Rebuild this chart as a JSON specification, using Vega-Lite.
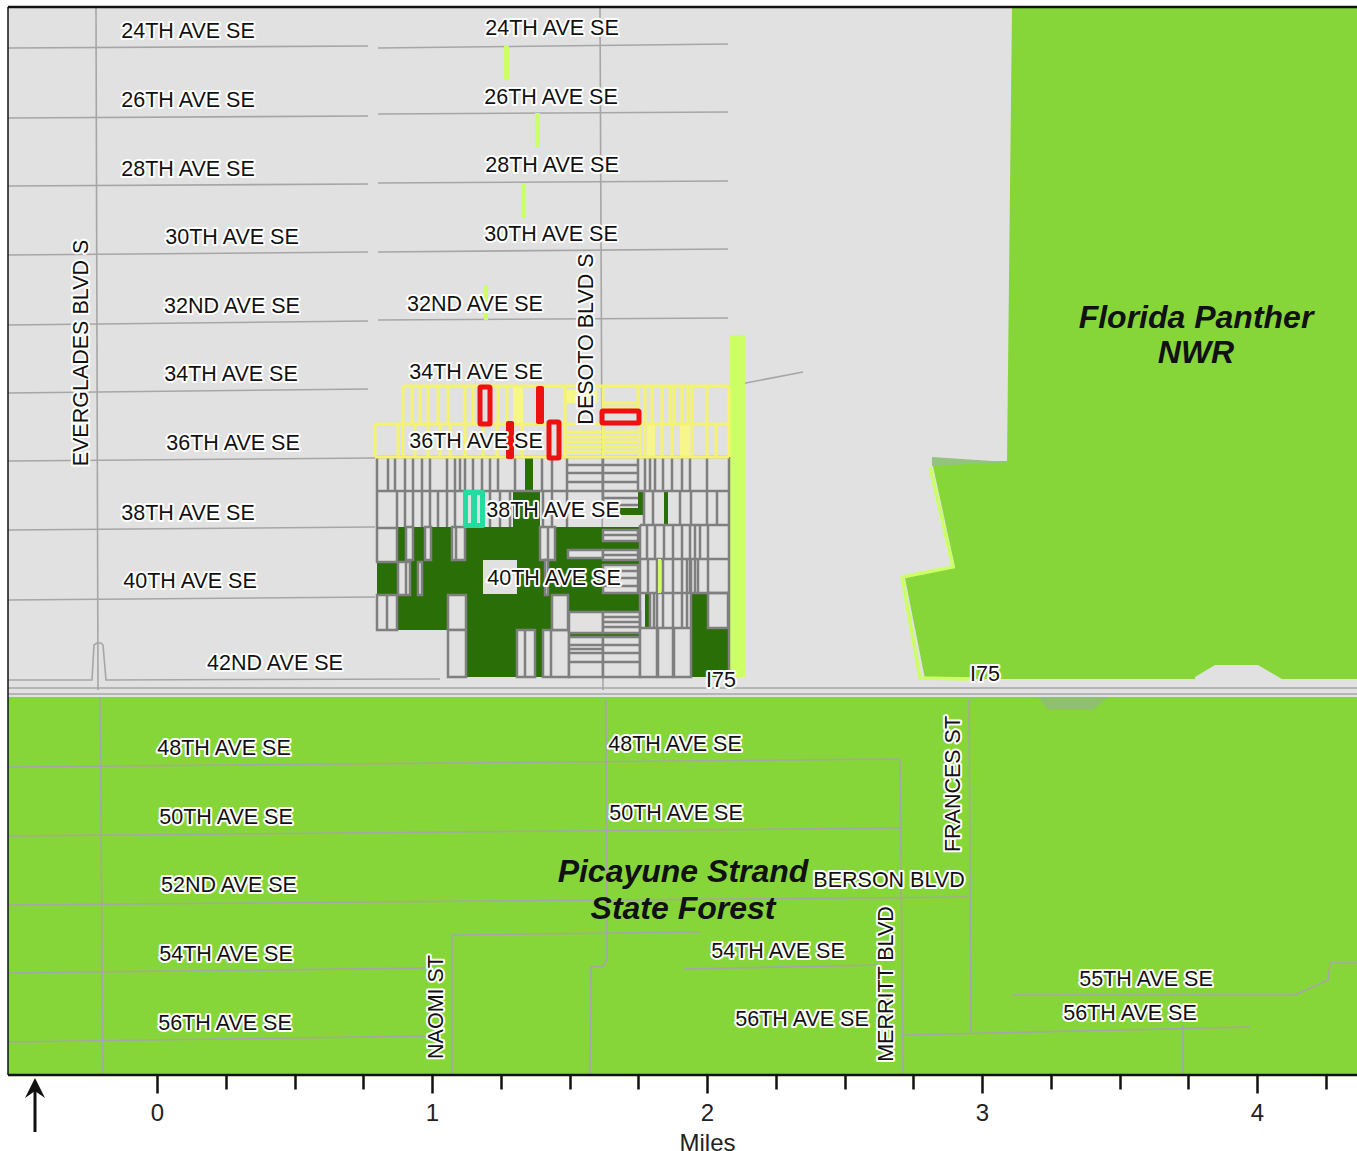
{"$schema":"https://vega.github.io/schema/vega-lite/v6.json","width":1357,"height":1151,"padding":0,"autosize":"none","background":"white",
"config":{"view":{"stroke":null},"text":{"font":"Liberation Sans"}},
"datasets":{
"base":[{"e":-149,"e2":1200,"n":378,"n2":1067,"c":"land"},{"e":-149,"e2":1200,"n":0,"n2":378,"c":"forest"}],
"panther":[{"e":855,"e2":1200,"n":1067},{"e":850,"e2":1200,"n":614},{"e":775,"e2":1200,"n":613.5},{"e":798,"e2":1200,"n":508},{"e":748,"e2":1200,"n":497},{"e":768,"e2":1200,"n":396}],
"bump":[{"e":1038,"n":398,"n2":394},{"e":1058,"n":410,"n2":394},{"e":1101,"n":410,"n2":394},{"e":1125,"n":396,"n2":394}],
"shade1":[{"e":775,"n":618,"n2":609},{"e":850,"n":613,"n2":613}],
"shade2":[{"e":881,"n":378,"n2":378},{"e":891,"n":378,"n2":365},{"e":936,"n":378,"n2":365},{"e":951,"n":378,"n2":378}],
"edge":[{"e":773,"n":608,"i":1},{"e":796,"n":508,"i":2},{"e":745,"n":498,"i":3},{"e":763,"n":397,"i":4},{"e":815,"n":396,"i":5}],
"roads":[
{"r":"a1","i":1,"e":-149,"n":1027},{"r":"a1","i":2,"e":211,"n":1029},
{"r":"a2","i":1,"e":221,"n":1027},{"r":"a2","i":2,"e":571,"n":1031},
{"r":"b1","i":1,"e":-149,"n":957},{"r":"b1","i":2,"e":211,"n":959},
{"r":"b2","i":1,"e":221,"n":961},{"r":"b2","i":2,"e":571,"n":963},
{"r":"c1","i":1,"e":-149,"n":889},{"r":"c1","i":2,"e":211,"n":891},
{"r":"c2","i":1,"e":221,"n":892},{"r":"c2","i":2,"e":571,"n":894},
{"r":"d1","i":1,"e":-149,"n":820},{"r":"d1","i":2,"e":211,"n":823},
{"r":"d2","i":1,"e":221,"n":823},{"r":"d2","i":2,"e":571,"n":826},
{"r":"f1","i":1,"e":-149,"n":750},{"r":"f1","i":2,"e":211,"n":754},
{"r":"f2","i":1,"e":221,"n":755},{"r":"f2","i":2,"e":571,"n":757},
{"r":"g1","i":1,"e":-149,"n":682},{"r":"g1","i":2,"e":211,"n":686},
{"r":"h1","i":1,"e":-149,"n":614},{"r":"h1","i":2,"e":218,"n":617},
{"r":"j1","i":1,"e":-149,"n":545},{"r":"j1","i":2,"e":218,"n":548},
{"r":"k1","i":1,"e":-149,"n":475},{"r":"k1","i":2,"e":218,"n":478},
{"r":"m","i":1,"e":-149,"n":395},{"r":"m","i":2,"e":-65,"n":395},{"r":"m","i":3,"e":-63,"n":430},{"r":"m","i":4,"e":-60,"n":432},{"r":"m","i":5,"e":-56,"n":432},{"r":"m","i":6,"e":-54,"n":430},{"r":"m","i":7,"e":-51,"n":395},{"r":"m","i":8,"e":283,"n":396},
{"r":"i1","i":1,"e":-149,"n":387},{"r":"i1","i":2,"e":1200,"n":387},
{"r":"i2","i":1,"e":-149,"n":381},{"r":"i2","i":2,"e":1200,"n":381},
{"r":"p48","i":1,"e":-149,"n":308},{"r":"p48","i":2,"e":743,"n":316},
{"r":"p50","i":1,"e":-149,"n":239},{"r":"p50","i":2,"e":743,"n":247},
{"r":"p52","i":1,"e":-149,"n":170},{"r":"p52","i":2,"e":811,"n":178},
{"r":"p54","i":1,"e":-149,"n":102},{"r":"p54","i":2,"e":273,"n":107},
{"r":"p56","i":1,"e":-149,"n":33},{"r":"p56","i":2,"e":273,"n":39},
{"r":"ev1","i":1,"e":-61,"n":1067},{"r":"ev1","i":2,"e":-59,"n":385},
{"r":"ev2","i":1,"e":-57,"n":378},{"r":"ev2","i":2,"e":-54,"n":0},
{"r":"de1","i":1,"e":443,"n":1067},{"r":"de1","i":2,"e":446,"n":385},
{"r":"de2","i":1,"e":449,"n":375},{"r":"de2","i":2,"e":450,"n":115},{"r":"de2","i":3,"e":446,"n":109},{"r":"de2","i":4,"e":434,"n":108},{"r":"de2","i":5,"e":433,"n":0},
{"r":"na","i":1,"e":295,"n":0},{"r":"na","i":2,"e":295,"n":140},{"r":"na","i":3,"e":543,"n":143},
{"r":"me","i":1,"e":743,"n":315},{"r":"me","i":2,"e":746,"n":0},
{"r":"fr","i":1,"e":812,"n":375},{"r":"fr","i":2,"e":814,"n":43},
{"r":"q54","i":1,"e":527,"n":106},{"r":"q54","i":2,"e":723,"n":110},
{"r":"q56","i":1,"e":746,"n":40},{"r":"q56","i":2,"e":1093,"n":48},
{"r":"q55","i":1,"e":855,"n":80},{"r":"q55","i":2,"e":1138,"n":80},{"r":"q55","i":3,"e":1171,"n":95},{"r":"q55","i":4,"e":1173,"n":112},{"r":"q55","i":5,"e":1200,"n":112},
{"r":"v","i":1,"e":1026,"n":50},{"r":"v","i":2,"e":1026,"n":0},
{"r":"sp","i":1,"e":573,"n":689},{"r":"sp","i":2,"e":646,"n":703}],
"lime":[{"e":573,"e2":588,"n":740,"n2":398},{"e":347,"e2":352,"n":1030,"n2":995},{"e":378,"e2":383,"n":962,"n2":927},{"e":364,"e2":369,"n":892,"n2":857},{"e":327,"e2":331,"n":790,"n2":755}],
"dark":[{"e":240,"e2":483,"n":548,"n2":480},{"e":220,"e2":240,"n":513,"n2":480},{"e":240,"e2":291,"n":480,"n2":445},{"e":309,"e2":412,"n":480,"n2":398},{"e":412,"e2":483,"n":487,"n2":464},{"e":356,"e2":383,"n":584,"n2":548},{"e":368,"e2":376,"n":618,"n2":584},{"e":481,"e2":486,"n":584,"n2":560},{"e":463,"e2":483,"n":567,"n2":560},{"e":507,"e2":511,"n":584,"n2":550},{"e":488,"e2":492,"n":482,"n2":447},{"e":535,"e2":551,"n":482,"n2":398},{"e":551,"e2":571,"n":447,"n2":398},{"e":411,"e2":483,"n":442,"n2":438}],
"parcels":[{"e":220,"e2":240,"n":547,"n2":513},{"e":249,"e2":256,"n":548,"n2":515},{"e":268,"e2":274,"n":548,"n2":515},{"e":295,"e2":308,"n":548,"n2":515},{"e":241,"e2":253,"n":513,"n2":480},{"e":261,"e2":265,"n":513,"n2":480},{"e":220,"e2":240,"n":480,"n2":445},{"e":291,"e2":309,"n":480,"n2":445},{"e":291,"e2":309,"n":445,"n2":398},{"e":360,"e2":378,"n":445,"n2":398},{"e":386,"e2":412,"n":445,"n2":398},{"e":395,"e2":411,"n":480,"n2":445},{"e":383,"e2":398,"n":548,"n2":515},{"e":388,"e2":391,"n":515,"n2":480},{"e":411,"e2":446,"n":525,"n2":517},{"e":446,"e2":481,"n":545,"n2":534},{"e":446,"e2":481,"n":525,"n2":515},{"e":446,"e2":481,"n":510,"n2":482},{"e":412,"e2":446,"n":463,"n2":442},{"e":446,"e2":483,"n":463,"n2":442},{"e":412,"e2":446,"n":438,"n2":398},{"e":446,"e2":483,"n":438,"n2":398},{"e":483,"e2":500,"n":447,"n2":398},{"e":501,"e2":516,"n":447,"n2":398},{"e":517,"e2":534,"n":447,"n2":398},{"e":551,"e2":571,"n":482,"n2":447}],
"box":[{"e":326,"e2":360,"n":515,"n2":481}],
"gv":[
{"e":220,"n":618,"n2":584},{"e":231,"n":618,"n2":584},{"e":238,"n":618,"n2":584},{"e":248,"n":618,"n2":584},{"e":256,"n":618,"n2":584},{"e":265,"n":618,"n2":584},{"e":273,"n":618,"n2":584},{"e":290,"n":618,"n2":584},{"e":298,"n":618,"n2":584},{"e":303,"n":618,"n2":584},{"e":308,"n":618,"n2":584},{"e":316,"n":618,"n2":584},{"e":325,"n":618,"n2":584},{"e":333,"n":618,"n2":584},{"e":341,"n":618,"n2":584},{"e":358,"n":618,"n2":584},{"e":385,"n":618,"n2":584},{"e":395,"n":618,"n2":584},{"e":410,"n":618,"n2":584},{"e":446,"n":618,"n2":584},{"e":481,"n":618,"n2":584},{"e":488,"n":618,"n2":584},{"e":493,"n":618,"n2":584},{"e":498,"n":618,"n2":584},{"e":506,"n":618,"n2":584},{"e":515,"n":618,"n2":584},{"e":525,"n":618,"n2":584},{"e":533,"n":618,"n2":584},{"e":550,"n":618,"n2":584},{"e":572,"n":618,"n2":398},
{"e":220,"n":584,"n2":548},{"e":240,"n":584,"n2":548},{"e":248,"n":584,"n2":548},{"e":256,"n":584,"n2":548},{"e":265,"n":584,"n2":548},{"e":273,"n":584,"n2":548},{"e":281,"n":584,"n2":548},{"e":290,"n":584,"n2":548},{"e":298,"n":584,"n2":548},{"e":333,"n":584,"n2":548},{"e":343,"n":584,"n2":548},{"e":353,"n":584,"n2":548},{"e":386,"n":584,"n2":548},{"e":395,"n":584,"n2":548},{"e":410,"n":584,"n2":548},{"e":446,"n":584,"n2":560},{"e":487,"n":584,"n2":550},{"e":496,"n":584,"n2":550},{"e":523,"n":584,"n2":550},{"e":534,"n":584,"n2":550},{"e":550,"n":584,"n2":550},{"e":560,"n":584,"n2":550},
{"e":483,"n":550,"n2":447},{"e":490,"n":550,"n2":516},{"e":498,"n":550,"n2":516},{"e":507,"n":550,"n2":516},{"e":516,"n":550,"n2":447},{"e":525,"n":550,"n2":447},{"e":533,"n":550,"n2":482},{"e":538,"n":550,"n2":482},{"e":543,"n":550,"n2":516},{"e":551,"n":550,"n2":482},
{"e":491,"n":516,"n2":482},{"e":500,"n":516,"n2":447},{"e":506,"n":516,"n2":447},{"e":530,"n":516,"n2":447},{"e":534,"n":516,"n2":447},{"e":541,"n":516,"n2":482},
{"e":493,"n":482,"n2":447},{"e":497,"n":482,"n2":447},
{"e":299,"n":548,"n2":515},{"e":249,"n":513,"n2":480},{"e":230,"n":480,"n2":445},{"e":368,"n":445,"n2":398},{"e":394,"n":445,"n2":398},{"e":391,"n":548,"n2":515}],
"gh":[{"e":220,"e2":572,"n":618},{"e":220,"e2":572,"n":584},{"e":483,"e2":572,"n":550},{"e":483,"e2":572,"n":516},{"e":483,"e2":572,"n":482},
{"e":410,"e2":481,"n":610},{"e":410,"e2":481,"n":602},{"e":410,"e2":481,"n":593},{"e":446,"e2":481,"n":577},{"e":446,"e2":481,"n":570},{"e":446,"e2":481,"n":504},{"e":446,"e2":481,"n":497},{"e":446,"e2":481,"n":489},{"e":446,"e2":481,"n":540},{"e":446,"e2":481,"n":520},{"e":446,"e2":483,"n":458},{"e":446,"e2":483,"n":453},{"e":446,"e2":483,"n":448},{"e":412,"e2":446,"n":430},{"e":412,"e2":446,"n":426},{"e":412,"e2":446,"n":422},{"e":412,"e2":446,"n":413},{"e":446,"e2":483,"n":430},{"e":446,"e2":483,"n":422},{"e":446,"e2":483,"n":413}],
"yfill":[{"e":356,"e2":366,"n":689,"n2":651},{"e":490,"e2":498,"n":651,"n2":618},{"e":523,"e2":533,"n":651,"n2":618},{"e":408,"e2":440,"n":685,"n2":672}],
"yv":[{"e":246,"n":689,"n2":651},{"e":218,"n":651,"n2":618},{"e":572,"n":689,"n2":618},
{"e":255,"n":689,"n2":651},{"e":263,"n":689,"n2":651},{"e":271,"n":689,"n2":651},{"e":281,"n":689,"n2":651},{"e":291,"n":689,"n2":651},{"e":308,"n":689,"n2":651},{"e":316,"n":689,"n2":651},{"e":341,"n":689,"n2":651},{"e":350,"n":689,"n2":651},{"e":408,"n":689,"n2":651},{"e":446,"n":689,"n2":651},{"e":481,"n":689,"n2":651},{"e":488,"n":689,"n2":651},{"e":495,"n":689,"n2":651},{"e":505,"n":689,"n2":651},{"e":513,"n":689,"n2":651},{"e":517,"n":689,"n2":651},{"e":525,"n":689,"n2":651},{"e":531,"n":689,"n2":651},{"e":535,"n":689,"n2":651},{"e":550,"n":689,"n2":651},
{"e":241,"n":651,"n2":618},{"e":246,"n":651,"n2":618},{"e":258,"n":651,"n2":618},{"e":271,"n":651,"n2":618},{"e":283,"n":651,"n2":618},{"e":293,"n":651,"n2":618},{"e":308,"n":651,"n2":618},{"e":326,"n":651,"n2":618},{"e":340,"n":651,"n2":618},{"e":365,"n":651,"n2":618},{"e":408,"n":651,"n2":618},{"e":446,"n":651,"n2":618},{"e":483,"n":651,"n2":618},{"e":488,"n":651,"n2":618},{"e":505,"n":651,"n2":618},{"e":515,"n":651,"n2":618},{"e":535,"n":651,"n2":618},{"e":550,"n":651,"n2":618},{"e":559,"n":651,"n2":618}],
"yh":[{"e":246,"e2":572,"n":689},{"e":218,"e2":572,"n":651},{"e":218,"e2":572,"n":618},{"e":408,"e2":481,"n":643},{"e":408,"e2":481,"n":638},{"e":408,"e2":481,"n":633},{"e":408,"e2":481,"n":628},{"e":408,"e2":481,"n":623},{"e":446,"e2":481,"n":672},{"e":446,"e2":481,"n":667}],
"limeParcel":[{"e":501,"e2":504,"n":516,"n2":482}],
"redSolid":[{"e":379,"e2":387,"n":689,"n2":651},{"e":349,"e2":357,"n":654,"n2":616}],
"redHollow":[{"e":323,"e2":333,"n":688,"n2":651},{"e":445,"e2":482,"n":664,"n2":652},{"e":392,"e2":402,"n":653,"n2":617}],
"teal":[{"e":306,"e2":328,"n":585,"n2":547}],
"tealSlit":[{"e":311,"e2":314,"n":580,"n2":552},{"e":320,"e2":323,"n":580,"n2":552}],
"labels":[{"t":"24TH AVE SE","e":31,"n":1044},{"t":"24TH AVE SE","e":395,"n":1047},{"t":"26TH AVE SE","e":31,"n":975},{"t":"26TH AVE SE","e":394,"n":978},{"t":"28TH AVE SE","e":31,"n":906},{"t":"28TH AVE SE","e":395,"n":910},{"t":"30TH AVE SE","e":75,"n":838},{"t":"30TH AVE SE","e":394,"n":841},{"t":"32ND AVE SE","e":75,"n":769},{"t":"32ND AVE SE","e":318,"n":771},{"t":"34TH AVE SE","e":74,"n":701},{"t":"34TH AVE SE","e":319,"n":703},{"t":"36TH AVE SE","e":76,"n":632},{"t":"36TH AVE SE","e":319,"n":634},{"t":"38TH AVE SE","e":31,"n":562},{"t":"38TH AVE SE","e":396,"n":565},{"t":"40TH AVE SE","e":33,"n":494},{"t":"40TH AVE SE","e":397,"n":497},{"t":"42ND AVE SE","e":118,"n":412},{"t":"I75","e":564,"n":395},{"t":"I75","e":828,"n":401},{"t":"48TH AVE SE","e":67,"n":327},{"t":"48TH AVE SE","e":518,"n":331},{"t":"50TH AVE SE","e":69,"n":258},{"t":"50TH AVE SE","e":519,"n":262},{"t":"52ND AVE SE","e":72,"n":190},{"t":"BERSON BLVD","e":732,"n":195},{"t":"54TH AVE SE","e":69,"n":121},{"t":"54TH AVE SE","e":621,"n":124},{"t":"55TH AVE SE","e":989,"n":96},{"t":"56TH AVE SE","e":973,"n":62},{"t":"56TH AVE SE","e":645,"n":56},{"t":"56TH AVE SE","e":68,"n":52}],
"labelsV":[{"t":"EVERGLADES BLVD S","e":-76,"n":722},{"t":"DESOTO BLVD S","e":429,"n":736},{"t":"FRANCES ST","e":796,"n":291},{"t":"NAOMI ST","e":279,"n":68},{"t":"MERRITT BLVD","e":729,"n":91}],
"big":[{"t":"Florida Panther","e":1039,"n":758},{"t":"NWR","e":1039,"n":723},{"t":"Picayune Strand","e":526,"n":204},{"t":"State Forest","e":526,"n":167}],
"frameH":[{"e":-149,"e2":1200,"n":0},{"e":-149,"e2":1200,"n":1068}],
"frameV":[{"e":-149,"n":0,"n2":1068}],
"head":[{"e":-132,"n":-23,"n2":-23},{"e":-122,"n":-3,"n2":-16},{"e":-112,"n":-23,"n2":-23}],
"shaft":[{"e":-122,"n":-16,"n2":-57}]
},
"encoding":{
"x":{"field":"e","type":"quantitative","scale":{"domain":[-157,1200],"nice":false,"zero":false},"axis":{"orient":"bottom","offset":-76,"domain":false,"grid":false,"values":[0,68.75,137.5,206.25,275,343.75,412.5,481.25,550,618.75,687.5,756.25,825,893.75,962.5,1031.25,1100,1168.75],"tickColor":"#111111","tickWidth":2.5,"tickSize":{"condition":{"test":"datum.value % 275 == 0","value":18},"value":14},"labelExpr":"datum.value % 275 == 0 ? format(datum.value / 275, 'd') : ''","labelFont":"Liberation Sans","labelFontSize":24,"labelColor":"#222222","labelPadding":8,"labelOverlap":false,"labelFlush":false,"title":"Miles","titleFont":"Liberation Sans","titleFontSize":24,"titleFontWeight":"normal","titleColor":"#222222","titleX":707,"titleY":56}},
"y":{"field":"n","type":"quantitative","axis":null,"scale":{"domain":[-76,1075],"nice":false,"zero":false}}},
"layer":[
{"data":{"name":"base"},"mark":{"type":"rect"},"encoding":{"x2":{"field":"e2"},"y2":{"field":"n2"},"color":{"field":"c","type":"nominal","legend":null,"scale":{"domain":["land","forest"],"range":["#e1e1e1","#86d63a"]}}}},
{"data":{"name":"panther"},"mark":{"type":"area","orient":"horizontal","color":"#86d63a"},"encoding":{"x2":{"field":"e2"}}},
{"data":{"name":"bump"},"mark":{"type":"area","color":"#e1e1e1"},"encoding":{"y2":{"field":"n2"}}},
{"data":{"name":"shade1"},"mark":{"type":"area","color":"#93c47d"},"encoding":{"y2":{"field":"n2"}}},
{"data":{"name":"shade2"},"mark":{"type":"area","color":"#8fc06c"},"encoding":{"y2":{"field":"n2"}}},
{"data":{"name":"edge"},"mark":{"type":"line","color":"#ccff66","strokeWidth":3.5},"encoding":{"order":{"field":"i"}}},
{"data":{"name":"roads"},"mark":{"type":"line","color":"#a6a6a6","strokeWidth":1.6},"encoding":{"detail":{"field":"r"},"order":{"field":"i"}}},
{"data":{"name":"lime"},"mark":{"type":"rect","color":"#ccff66"},"encoding":{"x2":{"field":"e2"},"y2":{"field":"n2"}}},
{"data":{"name":"dark"},"mark":{"type":"rect","color":"#2a6e08"},"encoding":{"x2":{"field":"e2"},"y2":{"field":"n2"}}},
{"data":{"name":"parcels"},"mark":{"type":"rect","fill":"#e1e1e1","stroke":"#7f7f7f","strokeWidth":2.5},"encoding":{"x2":{"field":"e2"},"y2":{"field":"n2"}}},
{"data":{"name":"box"},"mark":{"type":"rect","color":"#e1e1e1"},"encoding":{"x2":{"field":"e2"},"y2":{"field":"n2"}}},
{"data":{"name":"gv"},"mark":{"type":"rule","color":"#7f7f7f","strokeWidth":2.5},"encoding":{"y2":{"field":"n2"}}},
{"data":{"name":"gh"},"mark":{"type":"rule","color":"#7f7f7f","strokeWidth":2.5},"encoding":{"x2":{"field":"e2"}}},
{"data":{"name":"limeParcel"},"mark":{"type":"rect","color":"#ccff66"},"encoding":{"x2":{"field":"e2"},"y2":{"field":"n2"}}},
{"data":{"name":"yfill"},"mark":{"type":"rect","color":"#f6f68a"},"encoding":{"x2":{"field":"e2"},"y2":{"field":"n2"}}},
{"data":{"name":"yv"},"mark":{"type":"rule","color":"#f3f370","strokeWidth":3},"encoding":{"y2":{"field":"n2"}}},
{"data":{"name":"yh"},"mark":{"type":"rule","color":"#f3f370","strokeWidth":3},"encoding":{"x2":{"field":"e2"}}},
{"data":{"name":"redSolid"},"mark":{"type":"rect","color":"#ee1111","cornerRadius":2},"encoding":{"x2":{"field":"e2"},"y2":{"field":"n2"}}},
{"data":{"name":"redHollow"},"mark":{"type":"rect","fill":"#e1e1e1","stroke":"#ee1111","strokeWidth":5,"cornerRadius":1},"encoding":{"x2":{"field":"e2"},"y2":{"field":"n2"}}},
{"data":{"name":"teal"},"mark":{"type":"rect","color":"#22dd9f","cornerRadius":2},"encoding":{"x2":{"field":"e2"},"y2":{"field":"n2"}}},
{"data":{"name":"tealSlit"},"mark":{"type":"rect","color":"#d9e6e0"},"encoding":{"x2":{"field":"e2"},"y2":{"field":"n2"}}},
{"data":{"name":"labels"},"mark":{"type":"text","dy":1,"fontSize":21.5,"stroke":"white","strokeWidth":4,"strokeJoin":"round","fill":"white","align":"center","baseline":"middle"},"encoding":{"text":{"field":"t"}}},
{"data":{"name":"labels"},"mark":{"type":"text","dy":1,"fontSize":21.5,"fill":"#111111","align":"center","baseline":"middle"},"encoding":{"text":{"field":"t"}}},
{"data":{"name":"labelsV"},"mark":{"type":"text","dy":1,"angle":270,"fontSize":21.5,"stroke":"white","strokeWidth":4,"strokeJoin":"round","fill":"white","align":"center","baseline":"middle"},"encoding":{"text":{"field":"t"}}},
{"data":{"name":"labelsV"},"mark":{"type":"text","dy":1,"angle":270,"fontSize":21.5,"fill":"#111111","align":"center","baseline":"middle"},"encoding":{"text":{"field":"t"}}},
{"data":{"name":"big"},"mark":{"type":"text","dy":1,"fontSize":32,"fontWeight":"bold","fontStyle":"italic","fill":"#111111","align":"center","baseline":"middle"},"encoding":{"text":{"field":"t"}}},
{"data":{"name":"frameH"},"mark":{"type":"rule","color":"#111111","strokeWidth":2.5},"encoding":{"x2":{"field":"e2"}}},
{"data":{"name":"frameV"},"mark":{"type":"rule","color":"#111111","strokeWidth":1.5},"encoding":{"y2":{"field":"n2"}}},
{"data":{"name":"head"},"mark":{"type":"area","color":"#111111"},"encoding":{"y2":{"field":"n2"}}},
{"data":{"name":"shaft"},"mark":{"type":"rule","color":"#111111","strokeWidth":3},"encoding":{"y2":{"field":"n2"}}}
]}
